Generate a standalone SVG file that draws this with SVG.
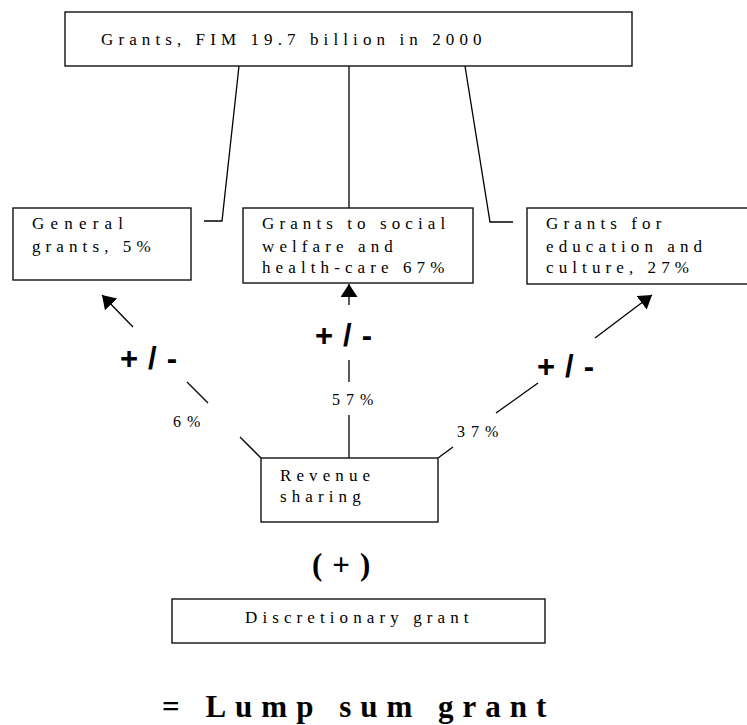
<svg xmlns="http://www.w3.org/2000/svg" width="747" height="725" viewBox="0 0 747 725">
<defs>
<marker id="ah" markerUnits="userSpaceOnUse" markerWidth="16" markerHeight="20" refX="13" refY="8.5" orient="auto">
<path d="M0,0 L13,8.5 L0,17 z" fill="#000"/>
</marker>
<style>
.box{fill:#fff;stroke:#111;stroke-width:1.4}
.t{font-family:"Liberation Serif","Times New Roman",serif;font-size:17px;fill:#000;letter-spacing:5.1px}
.pct{font-family:"Liberation Serif","Times New Roman",serif;font-size:16px;fill:#000;letter-spacing:6px}
.pm{font-family:"Liberation Sans",Arial,sans-serif;font-size:31px;font-weight:bold;fill:#000;letter-spacing:10px}
.big{font-family:"Liberation Serif","Times New Roman",serif;font-weight:bold;fill:#000}
.ln{fill:none;stroke:#000;stroke-width:1.3}
</style>
</defs>
<rect width="747" height="725" fill="#fff"/>
<g id="connectors">
<polyline class="ln" points="239,66 222,221 204,221"/>
<line class="ln" x1="349" y1="66" x2="349" y2="208"/>
<polyline class="ln" points="465,66 490,222 513,222"/>
<line class="ln" x1="261" y1="458" x2="240" y2="437"/>
<line class="ln" x1="208" y1="403" x2="187" y2="382"/>
<line class="ln" x1="133" y1="327" x2="102" y2="295" marker-end="url(#ah)"/>
<line class="ln" x1="349" y1="458" x2="349" y2="415"/>
<line class="ln" x1="349" y1="382" x2="349" y2="360"/>
<line class="ln" x1="349" y1="305" x2="349" y2="284" marker-end="url(#ah)"/>
<line class="ln" x1="438" y1="458" x2="453" y2="447"/>
<line class="ln" x1="496" y1="413" x2="538" y2="383"/>
<line class="ln" x1="595" y1="338" x2="652" y2="295" marker-end="url(#ah)"/>
<text class="pm" x="120" y="369">+/-</text>
<text class="pm" x="315" y="346">+/-</text>
<text class="pm" x="537" y="377">+/-</text>
<text class="pct" x="173" y="427">6%</text>
<text class="pct" x="332" y="405">57%</text>
<text class="pct" x="457" y="437">37%</text>
</g>
<g id="total">
<rect class="box" x="65" y="12" width="567" height="54"/>
<text class="t" x="101" y="45">Grants, FIM 19.7 billion in 2000</text>
</g>
<g id="general">
<rect class="box" x="13" y="208" width="178" height="72"/>
<text class="t" x="32" y="229" style="letter-spacing:6.2px">General</text>
<text class="t" x="32" y="252">grants, 5%</text>
</g>
<g id="social">
<rect class="box" x="243" y="208" width="230" height="75"/>
<text class="t" x="262" y="229">Grants to social</text>
<text class="t" x="262" y="252">welfare and</text>
<text class="t" x="262" y="273">health-care 67%</text>
</g>
<g id="education">
<rect class="box" x="527" y="208" width="224" height="76"/>
<text class="t" x="546" y="229">Grants for</text>
<text class="t" x="546" y="252">education and</text>
<text class="t" x="546" y="273">culture, 27%</text>
</g>
<g id="revenue">
<rect class="box" x="261" y="458" width="177" height="64"/>
<text class="t" x="280" y="481">Revenue</text>
<text class="t" x="280" y="502">sharing</text>
</g>
<text class="big" x="312" y="575" style="font-size:31px;letter-spacing:10px">(+)</text>
<g id="discretionary">
<rect class="box" x="172" y="599" width="373" height="44"/>
<text class="t" x="245" y="623">Discretionary grant</text>
</g>
<text class="big" x="162" y="717" style="font-size:31px;letter-spacing:9px">= Lump sum grant</text>
</svg>
